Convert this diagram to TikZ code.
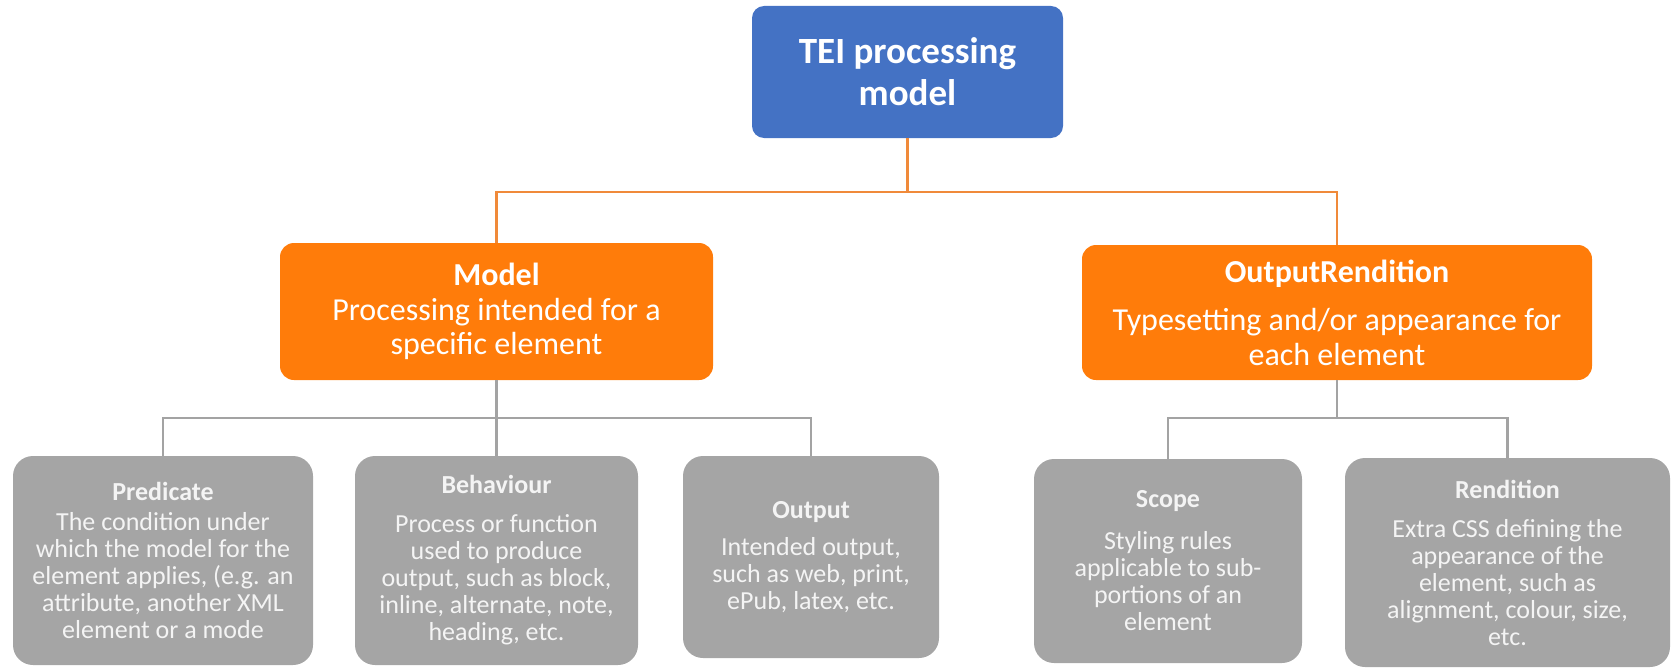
\documentclass[tikz,border=0pt]{standalone}
\usepackage{fontspec}
\setmainfont{Carlito}
\definecolor{teiblue}{HTML}{4472C4}
\definecolor{teiorange}{HTML}{FF7C0A}
\definecolor{teigrey}{HTML}{A5A5A5}
\definecolor{lineorange}{HTML}{F08A3A}
\definecolor{linegrey}{HTML}{A3A3A3}
\definecolor{greytext}{HTML}{F4F4F4}
\tikzset{
  topbox/.style={rectangle, rounded corners=12pt, fill=teiblue, text=white, align=center, inner sep=0pt,
    font=\fontsize{37}{42}\selectfont\bfseries},
  midbox/.style={rectangle, rounded corners=14pt, fill=teiorange, text=white, align=center, inner sep=0pt,
    font=\fontsize{32}{34.5}\selectfont},
  leafbox/.style={rectangle, rounded corners=20pt, fill=teigrey, text=greytext, align=center, inner sep=0pt,
    font=\fontsize{26}{27}\selectfont},
  orangeline/.style={draw=lineorange, line width=2.2pt},
  greyline/.style={draw=linegrey, line width=2.8pt},
}
\begin{document}
\begin{tikzpicture}[x=1pt,y=-1pt]
\useasboundingbox (0,0) rectangle (1673,669);
% top
\node[topbox, minimum width=311pt, minimum height=132pt] (tei) at (907.5,72) {TEI processing\\model};
% middle
\node[midbox, minimum width=433pt, minimum height=137pt] (model) at (496.5,311.5)
  {\textbf{Model}\\Processing intended for a\\specific element};
\node[midbox, minimum width=510pt, minimum height=135pt] (outr) at (1337,312.5)
  {\textbf{OutputRendition}\\[14pt]Typesetting and/or appearance for\\each element};
% leaves
\node[leafbox, minimum width=300pt, minimum height=209pt] (pred) at (163,560.5)
  {\textbf{Predicate}\\[3pt]The condition under\\which the model for the\\element applies, (e.g. an\\attribute, another XML\\element or a mode};
\node[leafbox, minimum width=283pt, minimum height=209pt] (beh) at (496.5,560.5)
  {\textbf{Behaviour}\\[12pt]Process or function\\used to produce\\output, such as block,\\inline, alternate, note,\\heading, etc.};
\node[leafbox, minimum width=256pt, minimum height=202pt] (out) at (811,557)
  {\textbf{Output}\\[10pt]Intended output,\\such as web, print,\\ePub, latex, etc.};
\node[leafbox, minimum width=268pt, minimum height=204pt] (scope) at (1168,561)
  {\textbf{Scope}\\[15pt]Styling rules\\applicable to sub-\\portions of an\\element};
\node[leafbox, minimum width=325pt, minimum height=209pt] (rend) at (1507.5,562.5)
  {\textbf{Rendition}\\[12pt]Extra CSS defining the\\appearance of the\\element, such as\\alignment, colour, size,\\etc.};
% connectors
\coordinate (ob) at (907.5,192);
\coordinate (gl) at (496.5,418);
\coordinate (gr) at (1337,418);
\draw[orangeline] (tei.south) -- (ob);
\draw[orangeline] (ob) -| (model.north);
\draw[orangeline] (ob) -| (outr.north);
\draw[greyline] (model.south) -- (gl);
\draw[greyline] (gl) -| (pred.north);
\draw[greyline] (gl) -- (beh.north);
\draw[greyline] (gl) -| (out.north);
\draw[greyline] (outr.south) -- (gr);
\draw[greyline] (gr) -| (scope.north);
\draw[greyline] (gr) -| (rend.north);
\end{tikzpicture}
\end{document}
